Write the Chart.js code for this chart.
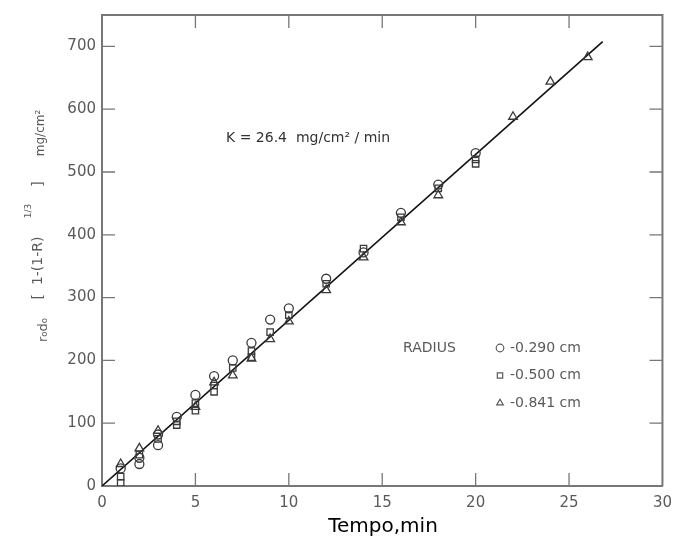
<!DOCTYPE html>
<html>
<head>
<meta charset="utf-8">
<script src="https://cdn.jsdelivr.net/npm/chart.js@4"></script>
<style>
  html, body { margin: 0; padding: 0; background: #fff; }
  #wrap { width: 680px; height: 541px; }
</style>
</head>
<body>
<div id="wrap"><canvas id="chart" width="680" height="541"></canvas></div>
<script>
// tempo (min) and r0*d0*[1-(1-R)^1/3] (mg/cm2)
const circleX = [1, 2, 2, 3, 3, 4, 5, 6, 7, 8, 9, 10, 12, 14, 16, 18, 20];
const circleY = [28, 45, 35, 82, 65, 110, 145, 175, 200, 228, 265, 283, 330, 372, 435, 480, 530];
const squareX = [1, 1, 2, 3, 4, 4, 5, 5, 6, 6, 7, 8, 8, 9, 10, 12, 14, 16, 18, 20, 20];
const squareY = [15, 5, 50, 75, 103, 97, 132, 120, 160, 150, 188, 215, 205, 245, 272, 322, 378, 428, 474, 520, 513];
const triX = [1, 2, 3, 5, 6, 7, 8, 9, 10, 12, 14, 16, 18, 22, 24, 26];
const triY = [35, 60, 88, 126, 165, 176, 203, 234, 262, 312, 364, 420, 463, 588, 644, 683];
const fitX = [0, 26.8];
const K = 26.4;
const xTicks = [0, 5, 10, 15, 20, 25, 30];
const yTicks = [0, 100, 200, 300, 400, 500, 600, 700];
const legendLabels = ['-0.290 cm', '-0.500 cm', '-0.841 cm'];

const toPoints = (xs, ys) => xs.map((x, i) => ({ x: x, y: ys[i] }));
const FONT = '"DejaVu Sans", sans-serif';
const GREY = '#5a5a5a';

const markerSet = (label, xs, ys, style) => ({
    type: 'scatter',
    label: label,
    data: toPoints(xs, ys),
    pointStyle: style,
    pointRadius: style === 'triangle' ? 5 : 4.5,
    pointBorderColor: '#3a3a3a',
    pointBackgroundColor: 'rgba(255,255,255,0)',
    pointBorderWidth: 1.3,
    order: 1
});

const decorations = {
    id: 'decorations',
    afterDraw(chart) {
        const { ctx, chartArea: a, scales: { x, y } } = chart;
        ctx.save();

        // frame (top + right) and inward ticks
        ctx.strokeStyle = '#777';
        ctx.lineWidth = 2;
        ctx.beginPath();
        ctx.moveTo(a.left, a.top);
        ctx.lineTo(a.right, a.top);
        ctx.lineTo(a.right, a.bottom);
        ctx.stroke();
        ctx.lineWidth = 1.3;
        ctx.beginPath();
        yTicks.forEach(v => {
            const py = y.getPixelForValue(v);
            if (v > 0) {
                ctx.moveTo(a.left, py); ctx.lineTo(a.left + 13, py);
                ctx.moveTo(a.right, py); ctx.lineTo(a.right - 13, py);
            }
        });
        xTicks.forEach(v => {
            const px = x.getPixelForValue(v);
            if (v > 0 && v < 30) {
                ctx.moveTo(px, a.bottom); ctx.lineTo(px, a.bottom - 13);
                ctx.moveTo(px, a.top); ctx.lineTo(px, a.top + 13);
            }
        });
        ctx.stroke();

        // annotation
        ctx.fillStyle = '#333';
        ctx.textBaseline = 'middle';
        ctx.textAlign = 'left';
        ctx.font = '14px ' + FONT;
        ctx.fillText('K = ' + K + '  mg/cm² / min', 226, 138);

        // legend
        ctx.font = '14px ' + FONT;
        ctx.fillStyle = GREY;
        ctx.fillText('RADIUS', 403, 348);
        const styles = ['circle', 'rect', 'triangle'];
        legendLabels.forEach((t, i) => {
            const ly = 348 + i * 27.5;
            ctx.strokeStyle = GREY;
            ctx.lineWidth = 1.2;
            ctx.fillStyle = 'rgba(0,0,0,0)';
            Chart.helpers.drawPoint(ctx, { pointStyle: styles[i], radius: 3.8, borderWidth: 1.2 }, 500, ly);
            ctx.fillStyle = GREY;
            ctx.fillText(t, 510, ly);
        });

        // y axis title
        ctx.save();
        ctx.rotate(-Math.PI / 2);
        ctx.fillStyle = GREY;
        ctx.textAlign = 'center';
        ctx.font = '13px ' + FONT;
        ctx.fillText('r₀d₀', -330, 44);
        ctx.font = '14px ' + FONT;
        ctx.fillText('[  1-(1-R)', -268, 38);
        ctx.font = '9px ' + FONT;
        ctx.fillText('1/3', -211, 29);
        ctx.font = '14px ' + FONT;
        ctx.fillText(']', -184, 38);
        ctx.font = '12px ' + FONT;
        ctx.fillText('mg/cm²', -133, 41);
        ctx.restore();

        // x axis title
        ctx.fillStyle = '#000';
        ctx.textAlign = 'center';
        ctx.font = '20px ' + FONT;
        ctx.fillText('Tempo,min', 383, 527);

        ctx.restore();
    }
};

new Chart(document.getElementById('chart'), {
    type: 'scatter',
    data: {
        datasets: [
            {
                type: 'line',
                label: 'fit',
                data: fitX.map(v => ({ x: v, y: K * v })),
                borderColor: '#111',
                borderWidth: 1.6,
                pointRadius: 0,
                fill: false,
                order: 2
            },
            markerSet('0.290 cm', circleX, circleY, 'circle'),
            markerSet('0.500 cm', squareX, squareY, 'rect'),
            markerSet('0.841 cm', triX, triY, 'triangle')
        ]
    },
    options: {
        responsive: false,
        animation: false,
        layout: { padding: { top: 14, right: 15, left: 0, bottom: 0 } },
        plugins: { legend: { display: false }, tooltip: { enabled: false } },
        scales: {
            x: {
                type: 'linear',
                min: 0,
                max: 30,
                afterFit: s => { s.height = 55; },
                afterBuildTicks: s => { s.ticks = xTicks.map(v => ({ value: v })); },
                grid: { drawOnChartArea: false, drawTicks: false },
                border: { color: '#777', width: 2 },
                ticks: { color: GREY, font: { size: 15, family: FONT }, padding: 8 }
            },
            y: {
                type: 'linear',
                min: 0,
                max: 750,
                afterFit: s => { s.width = 102; },
                afterBuildTicks: s => { s.ticks = yTicks.map(v => ({ value: v })); },
                grid: { drawOnChartArea: false, drawTicks: false },
                border: { color: '#777', width: 2 },
                ticks: { color: GREY, font: { size: 15, family: FONT }, padding: 6 }
            }
        }
    },
    plugins: [decorations]
});
</script>
</body>
</html>
